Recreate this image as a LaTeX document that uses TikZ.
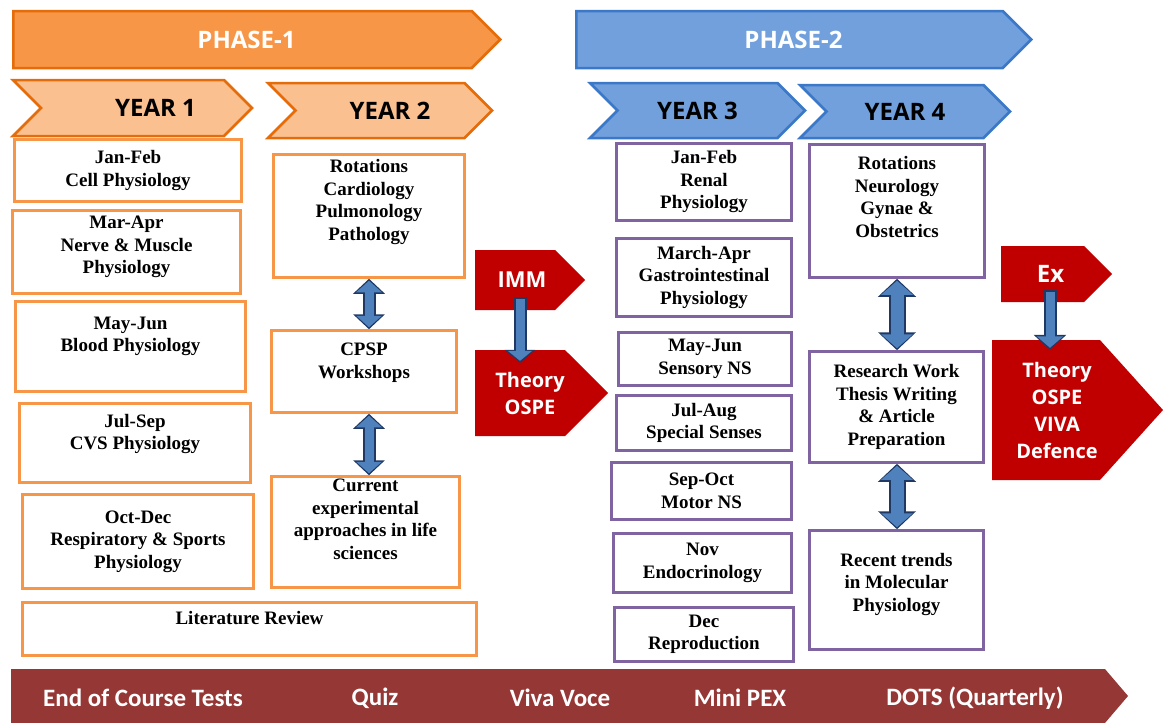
\documentclass[tikz,border=0pt]{standalone}
\usepackage{fontspec}
\setmainfont{Liberation Serif}
\newfontfamily\headfont{Open Sans}
\newfontfamily\barfont{Carlito}
\usetikzlibrary{shapes.symbols,arrows.meta,calc}

\definecolor{phaseorange}{HTML}{F79646}
\definecolor{edgeorange}{HTML}{E46C0A}
\definecolor{yearorange}{HTML}{FAC090}
\definecolor{phaseblue}{HTML}{71A0DC}
\definecolor{edgeblue}{HTML}{3C78C8}
\definecolor{boxorange}{HTML}{F79646}
\definecolor{boxpurple}{HTML}{8064A2}
\definecolor{examred}{HTML}{C00000}
\definecolor{barred}{HTML}{953735}
\definecolor{arrowblue}{HTML}{4F81BD}
\definecolor{arrownavy}{HTML}{1F3864}

\newcommand{\nudge}[1]{\hspace*{#1}}

\tikzset{
  phase/.style={signal, signal to=east, signal pointer angle=90,
    line width=2.5pt, inner sep=0pt, text=white,
    font=\headfont\bfseries\fontsize{24}{28}\selectfont},
  year/.style={signal, signal to=east, signal from=west, signal pointer angle=90,
    line width=2.5pt, inner sep=0pt,
    font=\headfont\bfseries\fontsize{24}{28}\selectfont},
  box/.style={draw, rectangle, line width=2.5pt, fill=white, align=center,
    inner sep=2pt, font=\bfseries\fontsize{19}{22.5}\selectfont},
  obox/.style={box, draw=boxorange},
  pbox/.style={box, draw=boxpurple},
  lift/.style={text depth=#1},
  exam/.style={signal, signal to=east, fill=examred, text=white, inner sep=0pt,
    align=center, font=\headfont\bfseries\fontsize{20}{27}\selectfont},
  bar/.style={signal, signal to=east, signal pointer angle=99, fill=barred, inner sep=0pt},
  bartext/.style={text=white, font=\barfont\bfseries\fontsize{25}{28}\selectfont},
  shaftout/.style n args={3}{draw=arrownavy, line width=#1,
    >={Triangle[length=#3,width=#2]}},
  shaftin/.style n args={3}{draw=arrowblue, line width=#1,
    shorten <=2pt, shorten >=2pt, >={Triangle[length=#3,width=#2]}},
}

\begin{document}
\begin{tikzpicture}[x=1pt,y=-1pt]
\useasboundingbox (0,0) rectangle (1163,723);

% phases and years
\node[phase, draw=edgeorange, fill=phaseorange, minimum width=487pt, minimum height=57pt] (phase1) at (242.5,39.5) {\nudge{8pt}PHASE-1};
\node[phase, draw=edgeblue, fill=phaseblue, minimum width=455pt, minimum height=57pt] (phase2) at (789.5,39.5) {\nudge{8pt}PHASE-2};

\node[year, draw=edgeorange, fill=yearorange, minimum width=239pt, minimum height=56pt] (year1) at (132.5,108) {\nudge{46pt}YEAR 1};
\node[year, draw=edgeorange, fill=yearorange, minimum width=224pt, minimum height=55pt] (year2) at (380,110.5) {\nudge{20pt}YEAR 2};
\node[year, draw=edgeblue, fill=phaseblue, minimum width=215pt, minimum height=55pt] (year3) at (697.5,110.5) {YEAR 3};
\node[year, draw=edgeblue, fill=phaseblue, minimum width=210pt, minimum height=53pt] (year4) at (905,111.5) {YEAR 4};

% year 1
\node[obox, minimum width=227pt, minimum height=62pt] (cell) at (128,170.5) {Jan-Feb\\Cell Physiology};
\node[obox, minimum width=228pt, minimum height=83pt, lift=14pt] (nerve) at (126.5,252) {Mar-Apr\\Nerve \& Muscle\\Physiology};
\node[obox, minimum width=230pt, minimum height=90pt, lift=24pt] (blood) at (130.5,346.5) {May-Jun\\Blood Physiology};
\node[obox, minimum width=231pt, minimum height=79pt, lift=22pt] (cvs) at (135,443) {Jul-Sep\\CVS Physiology};
\node[obox, minimum width=231pt, minimum height=94pt] (resp) at (138,541.5) {Oct-Dec\\Respiratory \& Sports\\Physiology};
\node[obox, minimum width=454pt, minimum height=53pt, lift=22pt] (litrev) at (249.5,629) {Literature Review};

% year 2
\node[obox, minimum width=191pt, minimum height=123pt, lift=32pt] (rot2) at (369,216) {Rotations\\Cardiology\\Pulmonology\\Pathology};
\node[obox, minimum width=185pt, minimum height=82pt, lift=22pt] (cpsp) at (364,371.5) {CPSP\\Workshops};
\node[obox, minimum width=188pt, minimum height=111pt, lift=26pt] (current) at (365.5,532) {Current\\experimental\\approaches in life\\sciences};

% year 3
\node[pbox, minimum width=175pt, minimum height=77pt] (renal) at (704,182) {Jan-Feb\\Renal\\Physiology};
\node[pbox, minimum width=175pt, minimum height=78pt] (gastro) at (704,277.5) {March-Apr\\Gastrointestinal\\Physiology};
\node[pbox, minimum width=173pt, minimum height=53pt] (sensory) at (705,359) {May-Jun\\Sensory NS};
\node[pbox, minimum width=175pt, minimum height=55pt] (senses) at (704,423) {Jul-Aug\\Special Senses};
\node[pbox, minimum width=180pt, minimum height=57pt] (motor) at (701.5,491) {Sep-Oct\\Motor NS};
\node[pbox, minimum width=178pt, minimum height=59pt] (endo) at (702.5,563) {Nov\\Endocrinology};
\node[pbox, minimum width=179pt, minimum height=54pt] (repro) at (704,634.5) {Dec\\Reproduction};

% year 4
\node[pbox, minimum width=175pt, minimum height=133pt, lift=28pt] (rot4) at (897,211) {Rotations\\Neurology\\Gynae \&\\Obstetrics};
\node[pbox, minimum width=174pt, minimum height=111pt] (research) at (896.5,407) {Research Work\\Thesis Writing\\\& Article\\Preparation};
\node[pbox, minimum width=174pt, minimum height=119pt, lift=16pt] (trends) at (896.5,590) {Recent trends\\in Molecular\\Physiology};

% exams
\node[exam, signal pointer angle=90, minimum width=110pt, minimum height=60pt, font=\headfont\bfseries\fontsize{22}{27}\selectfont] (imm) at (515,280) {\nudge{14pt}IMM};
\node[exam, signal pointer angle=90, minimum width=133pt, minimum height=86pt] (theory1) at (520,393) {\nudge{20pt}Theory\\\nudge{20pt}OSPE};
\node[exam, signal pointer angle=90, minimum width=111pt, minimum height=56pt, font=\headfont\bfseries\fontsize{24}{27}\selectfont] (ex) at (1042.5,274) {\nudge{16pt}Ex};
\node[exam, signal pointer angle=96, minimum width=171pt, minimum height=140pt] (theory2) at (1046,410) {\nudge{22pt}Theory\\\nudge{22pt}OSPE\\\nudge{22pt}VIVA\\\nudge{22pt}Defence};

% assessment bar
\node[bar, minimum width=1117pt, minimum height=54pt] (assess) at (558,696) {};
\node[bartext] (tests) at (143,698) {End of Course Tests};
\node[bartext] (quiz) at (375,698) {Quiz};
\node[bartext] (viva) at (560,698) {Viva Voce};
\node[bartext] (minipex) at (740,698) {Mini PEX};
\node[bartext] (dots) at (975,698) {DOTS (Quarterly)};

% links
\draw[shaftout={13pt}{31pt}{15pt}, <->] (rot2.south) -- (rot2.south |- cpsp.north);
\draw[shaftin={9pt}{25pt}{11.5pt}, <->] (rot2.south) -- (rot2.south |- cpsp.north);
\draw[shaftout={13pt}{31pt}{15pt}, <->] (rot2.south |- cpsp.south) -- (rot2.south |- current.north);
\draw[shaftin={9pt}{25pt}{11.5pt}, <->] (rot2.south |- cpsp.south) -- (rot2.south |- current.north);

\draw[shaftout={17pt}{37pt}{18pt}, <->] (rot4.south) -- (rot4.south |- research.north);
\draw[shaftin={13pt}{31pt}{14pt}, <->] (rot4.south) -- (rot4.south |- research.north);
\draw[shaftout={17pt}{37pt}{18pt}, <->] (rot4.south |- research.south) -- (rot4.south |- trends.north);
\draw[shaftin={13pt}{31pt}{14pt}, <->] (rot4.south |- research.south) -- (rot4.south |- trends.north);

\coordinate (immfoot) at ([xshift=5pt,yshift=13pt]imm.south);
\draw[shaftout={13pt}{30pt}{13pt}, ->] (immfoot) -- ($(immfoot |- theory1.north)+(0,13)$);
\draw[shaftin={9pt}{24pt}{10pt}, ->] (immfoot) -- ($(immfoot |- theory1.north)+(0,13)$);
\coordinate (exfoot) at ([xshift=7.5pt,yshift=12pt]ex.south);
\draw[shaftout={13pt}{32pt}{15pt}, ->] (exfoot) -- ($(exfoot |- theory2.north)+(0,10)$);
\draw[shaftin={9pt}{26pt}{11.5pt}, ->] (exfoot) -- ($(exfoot |- theory2.north)+(0,10)$);

\end{tikzpicture}
\end{document}
